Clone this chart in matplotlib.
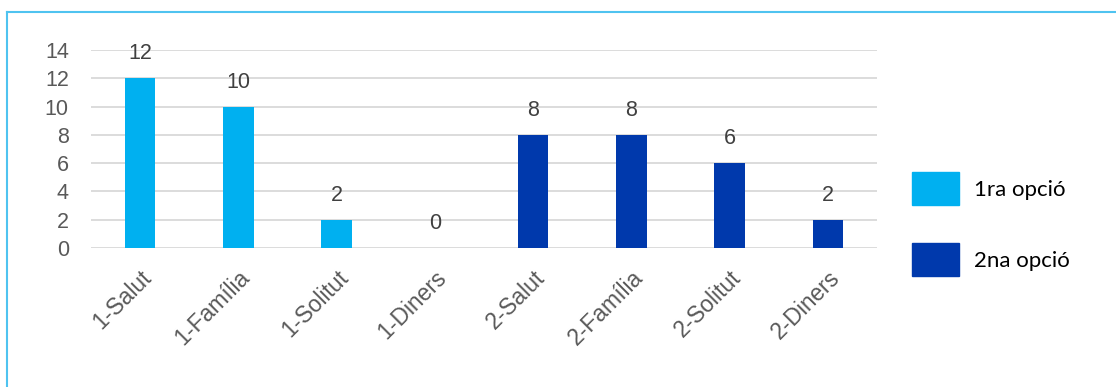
import matplotlib.pyplot as plt
from matplotlib.lines import Line2D
from matplotlib.patches import Patch

categories = ['1-Salut', '1-Família', '1-Solitut', '1-Diners',
              '2-Salut', '2-Família', '2-Solitut', '2-Diners']
first_option = [12, 10, 2, 0, None, None, None, None]
second_option = [None, None, None, None, 8, 8, 6, 2]
series_names = ['1ra opció', '2na opció']

light = '#00B0F0'
dark = '#0039AC'

W, H = 1116, 387
fig = plt.figure(figsize=(W / 100, H / 100), dpi=100)
ax = fig.add_axes([91 / W, 1 - 248 / H, (877 - 91) / W, (248 - 50) / H])

x = list(range(len(categories)))
for vals, col in [(first_option, light), (second_option, dark)]:
    xs = [i for i, v in zip(x, vals) if v is not None]
    ys = [v for v in vals if v is not None]
    ax.bar(xs, ys, width=0.31, color=col, zorder=3)
    for xi, yi in zip(xs, ys):
        ax.annotate(str(yi), (xi, yi), xytext=(0, 10), textcoords='offset points',
                    ha='center', va='bottom', fontsize=15.5, color='#404040',
                    family='Liberation Sans')

ax.set_xlim(-0.5, len(categories) - 0.5)
ax.set_ylim(0, 14)
ax.set_yticks(range(0, 15, 2))
ax.yaxis.grid(True, color='#D9D9D9', linewidth=1.3, zorder=0)
for s in ax.spines.values():
    s.set_visible(False)
ax.tick_params(length=0)
ax.tick_params(axis='y', pad=16, labelsize=15.5, labelcolor='#595959')
ax.set_yticklabels([str(v) for v in range(0, 15, 2)], family='Liberation Sans')
ax.set_xticks(x)
ax.set_xticklabels(categories, rotation=45, ha='right', rotation_mode='anchor',
                   fontsize=16.5, color='#595959', family='Liberation Sans')
ax.tick_params(axis='x', pad=13)

handles = [Patch(color=light), Patch(color=dark)]
fig.legend(handles, series_names, loc='center left', bbox_to_anchor=(901 / W, 1 - 224 / H),
           frameon=False, borderpad=0, handlelength=2.1, handleheight=1.85,
           labelspacing=1.75, handletextpad=0.68,
           prop={'family': 'Lato', 'size': 16})

# outer frame (partially visible)
fig.add_artist(Line2D([7 / W, 1], [1 - 12 / H, 1 - 12 / H], color='#4FC3F0', linewidth=1.5))
fig.add_artist(Line2D([7 / W, 7 / W], [0, 1 - 12 / H], color='#4FC3F0', linewidth=1.5))

fig.savefig('out.png', dpi=100)
